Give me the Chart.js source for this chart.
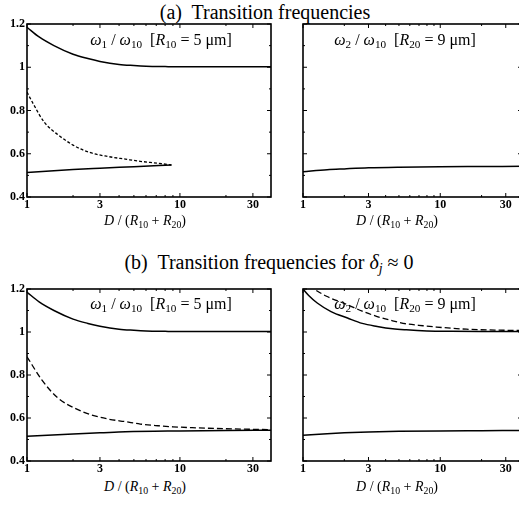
<!DOCTYPE html>
<html>
<head>
<meta charset="utf-8">
<script src="https://cdn.jsdelivr.net/npm/chart.js@4/dist/chart.umd.min.js"></script>
<style>
  html, body { margin: 0; padding: 0; background: #fff; overflow: hidden; }
  #wrap { position: relative; width: 519px; height: 506px; overflow: hidden; background: #fff; }
  canvas { position: absolute; }
  .txt { position: absolute; text-align: center; font-family: "Liberation Serif", "DejaVu Serif", serif; color: #000; white-space: nowrap; }
  .title { font-size: 20px; line-height: 22px; }
  .lab { font-size: 16px; line-height: 18px; }
  .ax { font-size: 14px; line-height: 16px; }
  sub { font-size: 70%; vertical-align: -0.3em; line-height: 0; }
</style>
</head>
<body>
<div id="wrap">
  <div class="txt title" style="left:65px;width:400px;top:1px">(a)&nbsp; Transition frequencies</div>
  <div class="txt title" style="left:69px;width:400px;top:251px">(b)&nbsp; Transition frequencies for <i>δ</i><sub><i>j</i></sub> ≈ 0</div>

  <canvas id="cA1" width="274" height="200" style="left:0;top:14px"></canvas>
  <canvas id="cA2" width="252" height="200" style="left:272px;top:14px"></canvas>
  <canvas id="cB1" width="274" height="199" style="left:0;top:279px"></canvas>
  <canvas id="cB2" width="252" height="199" style="left:272px;top:279px"></canvas>

  <div class="txt lab" style="left:61px;width:200px;top:31px"><i>ω</i><sub>1</sub> / <i>ω</i><sub>10</sub>&nbsp; [<i>R</i><sub>10</sub> = 5 μm]</div>
  <div class="txt lab" style="left:305px;width:200px;top:31px"><i>ω</i><sub>2</sub> / <i>ω</i><sub>10</sub>&nbsp; [<i>R</i><sub>20</sub> = 9 μm]</div>
  <div class="txt lab" style="left:61px;width:200px;top:295px"><i>ω</i><sub>1</sub> / <i>ω</i><sub>10</sub>&nbsp; [<i>R</i><sub>10</sub> = 5 μm]</div>
  <div class="txt lab" style="left:305px;width:200px;top:295px"><i>ω</i><sub>2</sub> / <i>ω</i><sub>10</sub>&nbsp; [<i>R</i><sub>20</sub> = 9 μm]</div>

  <div class="txt ax" style="left:45px;width:200px;top:213px"><i>D</i> / (<i>R</i><sub>10</sub> + <i>R</i><sub>20</sub>)</div>
  <div class="txt ax" style="left:297px;width:200px;top:213px"><i>D</i> / (<i>R</i><sub>10</sub> + <i>R</i><sub>20</sub>)</div>
  <div class="txt ax" style="left:45px;width:200px;top:479px"><i>D</i> / (<i>R</i><sub>10</sub> + <i>R</i><sub>20</sub>)</div>
  <div class="txt ax" style="left:297px;width:200px;top:479px"><i>D</i> / (<i>R</i><sub>10</sub> + <i>R</i><sub>20</sub>)</div>
</div>

<script>
// ticks
const xTicks = [1, 3, 10, 30];
const xTickLabels = ["1", "3", "10", "30"];
const xMinorTicks = [2, 4, 5, 6, 7, 8, 9, 20];
const yTicks = [0.4, 0.6, 0.8, 1, 1.2];
const yTickLabels = ["0.4", "0.6", "0.8", "1", "1.2"];
const yMinorTicks = [0.5, 0.7, 0.9, 1.1];

// upper branch of omega1 (same in both rows)
const xUpper1 = [1, 1.2, 1.5, 2, 2.5, 3, 4, 5, 6, 8, 10, 15, 20, 30, 40];
const yUpper1 = [1.185, 1.14, 1.10, 1.06, 1.04, 1.027, 1.013, 1.008, 1.005, 1.003, 1.002, 1.002, 1.002, 1.002, 1.002];

// (a) omega1: dashed and lower branch end where they meet
const xDashA1 = [1, 1.1, 1.3, 1.6, 2, 2.6, 3.4, 4.4, 5.5, 7.2, 8.8];
const yDashA1 = [0.885, 0.83, 0.745, 0.687, 0.64, 0.605, 0.587, 0.575, 0.565, 0.556, 0.548];
const xLowA1 = [1, 2, 3, 5, 8.8];
const yLowA1 = [0.513, 0.527, 0.533, 0.54, 0.548];

// (a) omega2
const xLowA2 = [1, 1.5, 2, 3, 5, 10, 20, 40];
const yLowA2 = [0.517, 0.526, 0.530, 0.535, 0.538, 0.540, 0.541, 0.542];

// (b) omega1
const xDashB1 = [1, 1.25, 1.6, 2.06, 2.65, 3.4, 4.4, 5.5, 7.2, 9, 12, 20, 40];
const yDashB1 = [0.885, 0.777, 0.692, 0.645, 0.614, 0.595, 0.583, 0.572, 0.564, 0.559, 0.555, 0.55, 0.546];
const xLowB1 = [1, 2, 3, 4.4, 10, 20, 40];
const yLowB1 = [0.515, 0.526, 0.531, 0.536, 0.540, 0.542, 0.543];

// (b) omega2
const xUpperB2 = [1, 1.1, 1.27, 1.6, 2.11, 2.7, 3.47, 4.5, 5.66, 8, 12, 20, 40];
const yUpperB2 = [1.2, 1.17, 1.135, 1.095, 1.065, 1.04, 1.026, 1.015, 1.01, 1.005, 1.003, 1.002, 1.002];
const xDashB2 = [1, 1.21, 1.5, 2.11, 2.7, 3.47, 4.5, 5.66, 7.5, 9.4, 15.5, 25, 40];
const yDashB2 = [1.25, 1.2, 1.165, 1.127, 1.097, 1.072, 1.052, 1.038, 1.029, 1.023, 1.013, 1.009, 1.007];
const xLowB2 = [1, 1.5, 2, 3, 5, 10, 20, 40];
const yLowB2 = [0.52, 0.527, 0.531, 0.535, 0.538, 0.540, 0.541, 0.542];

const FONT = "'Liberation Serif', 'DejaVu Serif', serif";

function pts(xs, ys) {
  return xs.map((x, i) => ({ x: x, y: ys[i] }));
}

function line(xs, ys, dash) {
  return {
    data: pts(xs, ys),
    borderColor: "#000",
    borderWidth: dash ? 1.3 : 1.5,
    borderDash: dash || [],
    pointRadius: 0,
    fill: false,
    cubicInterpolationMode: "monotone"
  };
}

// frame with inward ticks, like the original plot
const framePlugin = {
  id: "frame",
  afterDraw(chart) {
    const ctx = chart.ctx;
    const a = chart.chartArea;
    const xs = chart.scales.x, ys = chart.scales.y;
    ctx.save();
    ctx.strokeStyle = "#000";
    ctx.lineWidth = 1;
    ctx.beginPath();
    const tick = (v, len, horiz) => {
      if (horiz) {
        const p = xs.getPixelForValue(v);
        ctx.moveTo(p, a.bottom); ctx.lineTo(p, a.bottom - len);
        ctx.moveTo(p, a.top); ctx.lineTo(p, a.top + len);
      } else {
        const p = ys.getPixelForValue(v);
        ctx.moveTo(a.left, p); ctx.lineTo(a.left + len, p);
        ctx.moveTo(a.right, p); ctx.lineTo(a.right - len, p);
      }
    };
    xTicks.forEach(v => tick(v, 4, true));
    xMinorTicks.forEach(v => tick(v, 2, true));
    yTicks.forEach(v => tick(v, 4, false));
    yMinorTicks.forEach(v => tick(v, 2, false));
    ctx.stroke();
    ctx.lineWidth = 1.6;
    ctx.strokeRect(a.left, a.top, a.right - a.left, a.bottom - a.top);
    ctx.restore();
  }
};

function makeChart(id, datasets, showY, xMax) {
  new Chart(document.getElementById(id), {
    type: "line",
    data: { datasets: datasets },
    plugins: [framePlugin],
    options: {
      responsive: false,
      animation: false,
      layout: { padding: { top: 10, right: showY ? 3 : 2, left: showY ? 0 : 4, bottom: 0 } },
      plugins: { legend: { display: false }, tooltip: { enabled: false } },
      scales: {
        x: {
          type: "logarithmic",
          min: 1,
          max: xMax,
          grid: { display: false, drawTicks: false },
          border: { display: false },
          afterBuildTicks: s => { s.ticks = xTicks.map(v => ({ value: v })); },
          afterFit: s => { s.height = 17; },
          ticks: {
            padding: 1,
            maxRotation: 0,
            autoSkip: false,
            color: "#000",
            font: { family: FONT, size: 12, weight: "bold" },
            callback: (v) => xTickLabels[xTicks.indexOf(v)]
          }
        },
        y: {
          display: showY,
          min: 0.4,
          max: 1.2,
          grid: { display: false, drawTicks: false },
          border: { display: false },
          afterBuildTicks: s => { s.ticks = yTicks.map(v => ({ value: v })); },
          afterFit: s => { s.width = 27; },
          ticks: {
            padding: 2,
            autoSkip: false,
            color: "#000",
            font: { family: FONT, size: 12, weight: "bold" },
            callback: (v) => yTickLabels[yTicks.findIndex(t => Math.abs(t - v) < 1e-6)]
          }
        }
      }
    }
  });
}

makeChart("cA1", [
  line(xUpper1, yUpper1),
  line(xDashA1, yDashA1, [3, 2]),
  line(xLowA1, yLowA1)
], true, 39.4);

makeChart("cA2", [
  line(xLowA2, yLowA2)
], false, 39.4);

makeChart("cB1", [
  line(xUpper1, yUpper1),
  line(xDashB1, yDashB1, [6, 3]),
  line(xLowB1, yLowB1)
], true, 39.4);

makeChart("cB2", [
  line(xUpperB2, yUpperB2),
  line(xDashB2, yDashB2, [6, 3]),
  line(xLowB2, yLowB2)
], false, 39.4);
</script>
</body>
</html>
